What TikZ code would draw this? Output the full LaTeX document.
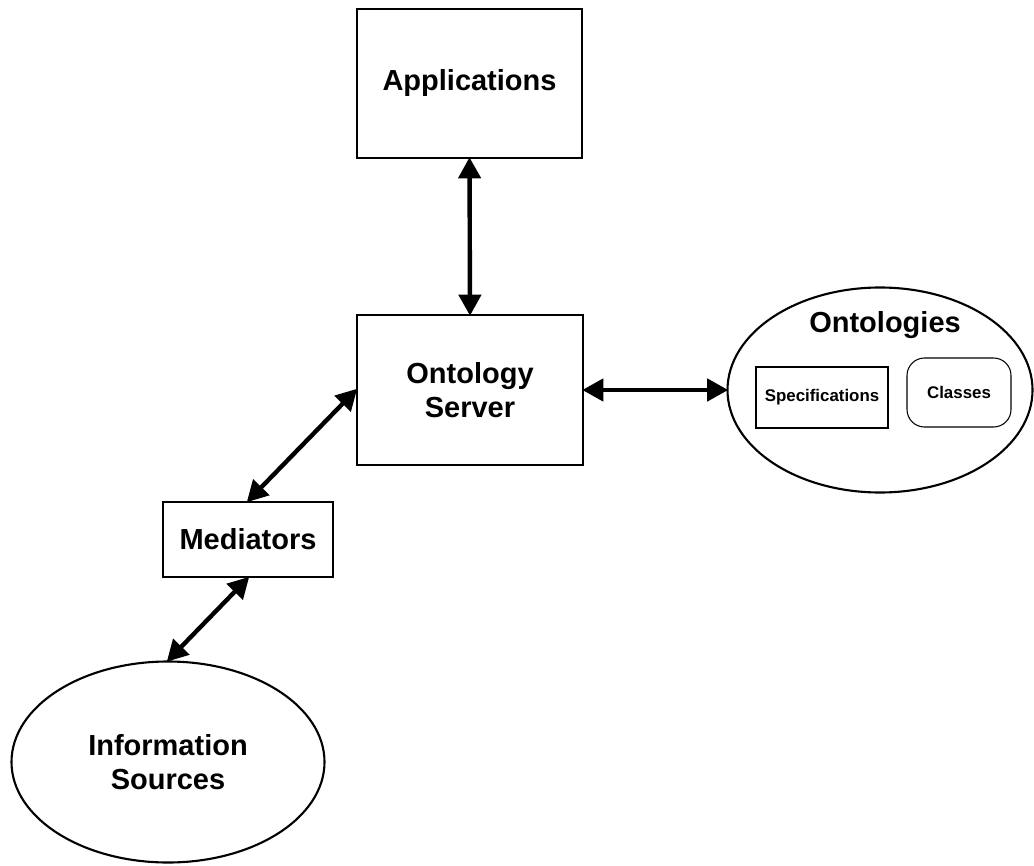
\documentclass[tikz,border=0pt]{standalone}
\usepackage{fontspec}
\setmainfont{Liberation Sans}
\usepackage{tikz}
\usetikzlibrary{shapes.geometric}
\usetikzlibrary{arrows.meta}

\tikzset{
    box/.style={draw,line width=1.2pt,inner sep=0pt,font=\fontsize{16.5}{19.5}\selectfont\bfseries,align=center},
    oval/.style={draw,ellipse,line width=1.2pt,inner sep=0pt},
    smallbox/.style={draw,line width=0.6pt,inner sep=0pt,font=\fontsize{9.6}{12}\selectfont\bfseries},
    link/.style={line width=2.5pt,{Triangle[length=0.42cm,width=0.44cm]}-{Triangle[length=0.42cm,width=0.44cm]},shorten <=-1pt,shorten >=-1pt}
}

\begin{document}
\begin{tikzpicture}
        \useasboundingbox (0,0) rectangle (20.68,-17.3);

        \node[box,minimum width=4.5cm,minimum height=2.98cm] (apps) at (9.39,-1.67) {Applications};
        \node[box,minimum width=4.52cm,minimum height=3cm] (server) at (9.4,-7.8) {Ontology\\Server};
        \node[box,minimum width=3.4cm,minimum height=1.5cm] (med) at (4.96,-10.79) {Mediators};
        \node[oval,box,ellipse,minimum width=6.26cm,minimum height=4.02cm] (sources) at (3.36,-15.24) {Information\\Sources};

        \node[oval,minimum width=6.1cm,minimum height=4.1cm] (onto) at (17.6,-7.8) {};
        \node[font=\fontsize{16.5}{19}\selectfont\bfseries] (ontolabel) at (17.7,-6.5) {Ontologies};
        \node[smallbox,minimum width=2.64cm,minimum height=1.22cm] (spec) at (16.44,-7.95) {Specifications};
        \node[smallbox,rounded corners=0.35cm,minimum width=2.08cm,minimum height=1.38cm] (classes) at (19.18,-7.85) {Classes};

        \draw[link] (apps.south) -- (server.north);
        \draw[link] (server.east) -- (onto.west);
        \draw[link] (server.west) -- (med.north);
        \draw[link] (med.south) -- (sources.north);
    \end{tikzpicture}
\end{document}
